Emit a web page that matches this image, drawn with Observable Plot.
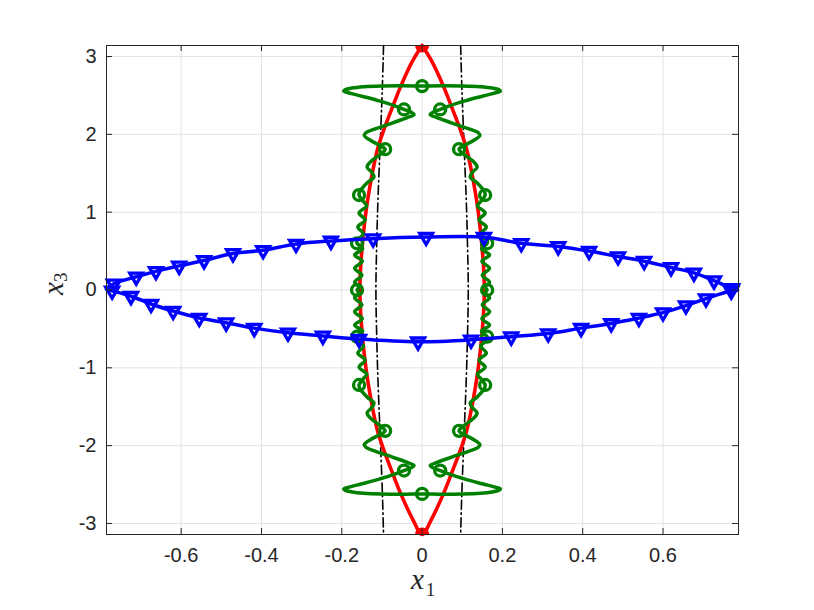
<!DOCTYPE html>
<html>
<head>
<meta charset="utf-8">
<script src="https://cdn.jsdelivr.net/npm/d3@7"></script>
<script src="https://cdn.jsdelivr.net/npm/@observablehq/plot@0.6"></script>
<style>
html,body{margin:0;padding:0;background:#fff;}
#chart{width:814px;height:610px;}
</style>
</head>
<body>
<div id="chart"></div>
<script>
// ---------- axes ----------
const xTicks = [-0.6, -0.4, -0.2, 0, 0.2, 0.4, 0.6];
const yTicks = [-3, -2, -1, 0, 1, 2, 3];
const xDomain = [-0.786, 0.788];
const yDomain = [-3.1416, 3.1416];

// ---------- red lens curve ----------
const redX = [0, 0.024, 0.053, 0.073, 0.098, 0.112, 0.124, 0.133, 0.140, 0.147, 0.153, 0.155, 0.153, 0.147, 0.140, 0.133, 0.124, 0.112, 0.098, 0.073, 0.053, 0.024, 0,
  -0.024, -0.053, -0.073, -0.098, -0.112, -0.124, -0.133, -0.140, -0.147, -0.153, -0.155, -0.153, -0.147, -0.140, -0.133, -0.124, -0.112, -0.098, -0.073, -0.053, -0.024, 0];
const redY = [3.1416, 2.94, 2.62, 2.36, 2.02, 1.79, 1.5, 1.24, 1.0, 0.68, 0.3, 0, -0.3, -0.68, -1.0, -1.24, -1.5, -1.79, -2.02, -2.36, -2.62, -2.94, -3.1416,
  -2.94, -2.62, -2.36, -2.02, -1.79, -1.5, -1.24, -1.0, -0.68, -0.3, 0, 0.3, 0.68, 1.0, 1.24, 1.5, 1.79, 2.02, 2.36, 2.62, 2.94, 3.1416];
const redTipX = [0, 0];
const redTipY = [3.1416, -3.1416];

// ---------- black dash-dot bounds ----------
const blackY = [3.1416, 2.6, 1.8, 1.15, 0.6, 0, -0.6, -1.15, -1.8, -2.6, -3.1416];
const blackRightX = [0.096, 0.099, 0.105, 0.110, 0.113, 0.115, 0.113, 0.110, 0.105, 0.099, 0.096];
const blackLeftX = [-0.096, -0.099, -0.105, -0.110, -0.113, -0.115, -0.113, -0.110, -0.105, -0.099, -0.096];

// ---------- green wavy curve (four quarters, in drawing order) ----------
const greenQ1 = [[0,2.62],[-0.05,2.625],[-0.10,2.622],[-0.145,2.612],[-0.175,2.595],[-0.191,2.575],[-0.195,2.555],[-0.187,2.54],[-0.15,2.49],[-0.107,2.43],[-0.07,2.37],[-0.045,2.32],[-0.027,2.285],[-0.020,2.255],[-0.037,2.215],[-0.075,2.145],[-0.117,2.07],[-0.140,2.02],[-0.144,1.985],[-0.128,1.92],[-0.106,1.86],[-0.092,1.81],[-0.105,1.74],[-0.128,1.65],[-0.137,1.58],[-0.125,1.51],[-0.120,1.45],[-0.136,1.38],[-0.149,1.31],[-0.155,1.27],[-0.157,1.22],[-0.148,1.15],[-0.138,1.08],[-0.157,0.99],[-0.142,0.90],[-0.160,0.81],[-0.146,0.72],[-0.162,0.64],[-0.162,0.60],[-0.148,0.53],[-0.168,0.45],[-0.149,0.37],[-0.168,0.28],[-0.150,0.19],[-0.168,0.10],[-0.157,0.04],[-0.162,0]];
const greenQ2 = [[-0.157,-0.04],[-0.168,-0.10],[-0.150,-0.19],[-0.168,-0.28],[-0.149,-0.37],[-0.168,-0.45],[-0.148,-0.53],[-0.162,-0.60],[-0.162,-0.64],[-0.146,-0.72],[-0.160,-0.81],[-0.142,-0.90],[-0.157,-0.99],[-0.138,-1.08],[-0.148,-1.15],[-0.157,-1.22],[-0.155,-1.27],[-0.149,-1.31],[-0.136,-1.38],[-0.120,-1.45],[-0.125,-1.51],[-0.137,-1.58],[-0.128,-1.65],[-0.105,-1.74],[-0.092,-1.81],[-0.106,-1.86],[-0.128,-1.92],[-0.144,-1.985],[-0.140,-2.02],[-0.117,-2.07],[-0.075,-2.145],[-0.037,-2.215],[-0.020,-2.255],[-0.027,-2.285],[-0.045,-2.32],[-0.07,-2.37],[-0.107,-2.43],[-0.15,-2.49],[-0.187,-2.54],[-0.195,-2.555],[-0.191,-2.575],[-0.175,-2.595],[-0.145,-2.612],[-0.10,-2.622],[-0.05,-2.625],[0,-2.62]];
const greenQ3 = [[0.05,-2.625],[0.10,-2.622],[0.145,-2.612],[0.175,-2.595],[0.191,-2.575],[0.195,-2.555],[0.187,-2.54],[0.15,-2.49],[0.107,-2.43],[0.07,-2.37],[0.045,-2.32],[0.027,-2.285],[0.020,-2.255],[0.037,-2.215],[0.075,-2.145],[0.117,-2.07],[0.140,-2.02],[0.144,-1.985],[0.128,-1.92],[0.106,-1.86],[0.092,-1.81],[0.105,-1.74],[0.128,-1.65],[0.137,-1.58],[0.125,-1.51],[0.120,-1.45],[0.136,-1.38],[0.149,-1.31],[0.155,-1.27],[0.157,-1.22],[0.148,-1.15],[0.138,-1.08],[0.157,-0.99],[0.142,-0.90],[0.160,-0.81],[0.146,-0.72],[0.162,-0.64],[0.162,-0.60],[0.148,-0.53],[0.168,-0.45],[0.149,-0.37],[0.168,-0.28],[0.150,-0.19],[0.168,-0.10],[0.157,-0.04],[0.162,0]];
const greenQ4 = [[0.157,0.04],[0.168,0.10],[0.150,0.19],[0.168,0.28],[0.149,0.37],[0.168,0.45],[0.148,0.53],[0.162,0.60],[0.162,0.64],[0.146,0.72],[0.160,0.81],[0.142,0.90],[0.157,0.99],[0.138,1.08],[0.148,1.15],[0.157,1.22],[0.155,1.27],[0.149,1.31],[0.136,1.38],[0.120,1.45],[0.125,1.51],[0.137,1.58],[0.128,1.65],[0.105,1.74],[0.092,1.81],[0.106,1.86],[0.128,1.92],[0.144,1.985],[0.140,2.02],[0.117,2.07],[0.075,2.145],[0.037,2.215],[0.020,2.255],[0.027,2.285],[0.045,2.32],[0.07,2.37],[0.107,2.43],[0.15,2.49],[0.187,2.54],[0.195,2.555],[0.191,2.575],[0.175,2.595],[0.145,2.612],[0.10,2.622],[0.05,2.625],[0,2.62]];
const greenMarkX = [0, -0.045, -0.092, -0.157, -0.162, -0.162, -0.162, -0.157, -0.092, -0.045, 0, 0.045, 0.092, 0.157, 0.162, 0.162, 0.162, 0.157, 0.092, 0.045];
const greenMarkY = [2.62, 2.32, 1.81, 1.22, 0.60, 0, -0.60, -1.22, -1.81, -2.32, -2.62, -2.32, -1.81, -1.22, -0.60, 0, 0.60, 1.22, 1.81, 2.32];

// ---------- blue ellipse ----------
const blueTipX = [-0.786, 0.786];
const blueTipY = [0.01, 0.0];
const blueUpperX = [-0.768, -0.712, -0.663, -0.605, -0.543, -0.471, -0.396, -0.314, -0.227, -0.122, 0.010, 0.154, 0.247, 0.339, 0.416, 0.488, 0.553, 0.620, 0.677, 0.727, 0.772];
const blueUpperY = [0.08, 0.17, 0.24, 0.31, 0.38, 0.47, 0.51, 0.59, 0.63, 0.66, 0.68, 0.68, 0.60, 0.56, 0.50, 0.43, 0.37, 0.29, 0.22, 0.12, 0.02];
const blueLowerX = [-0.772, -0.725, -0.675, -0.620, -0.555, -0.488, -0.418, -0.334, -0.247, -0.157, -0.010, 0.122, 0.222, 0.314, 0.396, 0.471, 0.540, 0.600, 0.657, 0.707, 0.770];
const blueLowerY = [-0.01, -0.08, -0.18, -0.27, -0.36, -0.42, -0.49, -0.55, -0.59, -0.63, -0.665, -0.64, -0.60, -0.56, -0.49, -0.43, -0.36, -0.29, -0.20, -0.11, -0.01];

// ---------- labels ----------
const xLabel = ["x", "1"];
const yLabel = ["x", "3"];

// ---------- build tables ----------
const zip = (xs, ys) => xs.map((x, i) => ({x, y: ys[i]}));
const red = zip(redX, redY);
const redTips = zip(redTipX, redTipY);
const blackL = zip(blackLeftX, blackY);
const blackR = zip(blackRightX, blackY);
const green = [...greenQ1, ...greenQ2, ...greenQ3, ...greenQ4].map(([x, y]) => ({x, y}));
const greenMarks = zip(greenMarkX, greenMarkY);
const upper = zip(blueUpperX, blueUpperY);
const lower = zip(blueLowerX, blueLowerY);
const tips = zip(blueTipX, blueTipY);
const blueLine = [tips[0], ...upper, tips[1], ...lower.slice().reverse(), tips[0]];
const blueMarks = [...upper, ...lower];

const W = 814, H = 610, mL = 106, mR = 76, mT = 45, mB = 76;
const tickLen = 6;
const ky = (yDomain[1] - yDomain[0]) / (H - mT - mB);
const kx = (xDomain[1] - xDomain[0]) / (W - mL - mR);
const axisColor = "#262626";
const serif = "'Liberation Serif', 'DejaVu Serif', serif";

const plot = Plot.plot({
  width: W, height: H,
  marginLeft: mL, marginRight: mR, marginTop: mT, marginBottom: mB,
  x: {domain: xDomain},
  y: {domain: yDomain},
  style: {fontFamily: "'Liberation Sans', Arial, Helvetica, sans-serif", fontSize: "20px", color: axisColor, background: "#fff"},
  marks: [
    Plot.gridX({ticks: xTicks, stroke: "#e2e2e2", strokeOpacity: 1, strokeWidth: 1}),
    Plot.gridY({ticks: yTicks, stroke: "#e2e2e2", strokeOpacity: 1, strokeWidth: 1}),
    Plot.line(blackL, {x: "x", y: "y", stroke: "#000", strokeWidth: 1.6, strokeDasharray: "9,3.5,1.5,3.5", curve: "catmull-rom"}),
    Plot.line(blackR, {x: "x", y: "y", stroke: "#000", strokeWidth: 1.6, strokeDasharray: "9,3.5,1.5,3.5", curve: "catmull-rom"}),
    Plot.line(red, {x: "x", y: "y", stroke: "#ff0000", strokeWidth: 3.6, curve: "catmull-rom"}),
    Plot.dot(redTips, {x: "x", y: "y", r: 7, fill: "#ff0000", stroke: "none", clip: true}),
    Plot.line(green, {x: "x", y: "y", stroke: "#008000", strokeWidth: 3.5, curve: "catmull-rom", strokeLinejoin: "round"}),
    Plot.dot(greenMarks, {x: "x", y: "y", r: 5.5, fill: "none", stroke: "#008000", strokeWidth: 3.3}),
    Plot.line(blueLine, {x: "x", y: "y", stroke: "#0000ff", strokeWidth: 3.5, curve: "catmull-rom"}),
    Plot.dot(blueMarks, {x: "x", y: "y", symbol: "triangle", rotate: 180, r: 4.8, fill: "none", stroke: "#0000ff", strokeWidth: 3.3}),
    Plot.frame({stroke: axisColor, strokeWidth: 1}),
    Plot.ruleX(xTicks, {x: d => d, y1: yDomain[0], y2: yDomain[0] + tickLen * ky, stroke: axisColor}),
    Plot.ruleX(xTicks, {x: d => d, y1: yDomain[1], y2: yDomain[1] - tickLen * ky, stroke: axisColor}),
    Plot.ruleY(yTicks, {y: d => d, x1: xDomain[0], x2: xDomain[0] + tickLen * kx, stroke: axisColor}),
    Plot.ruleY(yTicks, {y: d => d, x1: xDomain[1], x2: xDomain[1] - tickLen * kx, stroke: axisColor}),
    Plot.axisX({ticks: xTicks, tickSize: 0, tickPadding: 13, tickFormat: d => String(d), label: null}),
    Plot.axisY({ticks: yTicks, tickSize: 0, tickPadding: 10, tickFormat: d => String(d), label: null}),
    Plot.text([xLabel[0]], {frameAnchor: "bottom", text: d => d, dx: -5, dy: 54, fontFamily: serif, fontStyle: "italic", fontSize: 29, fill: axisColor}),
    Plot.text([xLabel[1]], {frameAnchor: "bottom", text: d => d, dx: 8, dy: 61, fontFamily: serif, fontSize: 19, fill: axisColor}),
    Plot.text([yLabel[0]], {frameAnchor: "left", text: d => d, dx: -53, dy: 5, rotate: -90, fontFamily: serif, fontStyle: "italic", fontSize: 29, fill: axisColor}),
    Plot.text([yLabel[1]], {frameAnchor: "left", text: d => d, dx: -46, dy: -8, rotate: -90, fontFamily: serif, fontSize: 19, fill: axisColor})
  ]
});
document.getElementById("chart").appendChild(plot);
</script>
</body>
</html>
